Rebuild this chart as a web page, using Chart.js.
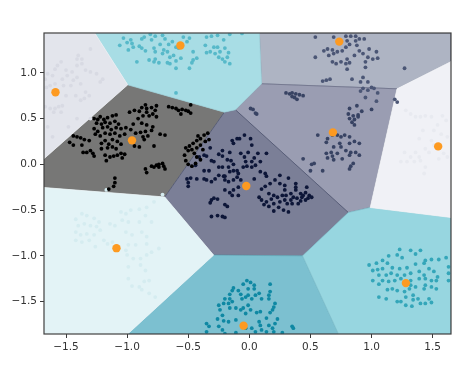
<!DOCTYPE html>
<html>
<head>
<meta charset="utf-8">
<style>
  html, body { margin: 0; padding: 0; background: #fff; }
  canvas { display: block; filter: blur(0.3px); }
</style>
<script src="https://cdn.jsdelivr.net/npm/chart.js@4"></script>
</head>
<body>
<canvas id="chart" width="474" height="366"></canvas>
<script>
// ─── Data ──────────────────────────────────────────────────────────────────

const xTicks = [-1.5, -1, -0.5, 0, 0.5, 1, 1.5];
const yTicks = [-1.5, -1, -0.5, 0, 0.5, 1];

const centers = [[-1.586,.788],[-.96,.262],[-.564,1.298],[.736,1.341],[.684,.349],[1.545,.196],[-.025,-.236],[-1.087,-.916],[-.047,-1.763],[1.281,-1.298]];

// cell outlines
const cellTopLeft = [[-1.68,1.435],[-1.265,1.435],[-.995,.869],[-1.68,.062]];
const cellBlack = [[-.995,.869],[-.204,.57],[-.692,-.357],[-1.68,-.254],[-1.68,.062]];
const cellTopCyan = [[-1.265,1.435],[.082,1.435],[.1,.88],[-.114,.596],[-.204,.57],[-.995,.869]];
const cellTopGray = [[.082,1.435],[1.65,1.435],[1.65,1.123],[1.208,.825],[.1,.88]];
const cellMidGray = [[-.114,.596],[.1,.88],[1.208,.825],[.989,-.472],[.81,-.527]];
const cellRight = [[1.65,1.123],[1.208,.825],[.989,-.472],[1.65,-.581]];
const cellCenter = [[-.204,.57],[-.114,.596],[.81,-.527],[.436,-1],[-.292,-.992],[-.692,-.357]];
const cellLowerLeft = [[-1.68,-.254],[-.692,-.357],[-.292,-.992],[-.995,-1.854],[-1.68,-1.854]];
const cellBottom = [[-.292,-.992],[.436,-1],[.73,-1.854],[-.995,-1.854]];
const cellLowerRight = [[.81,-.527],[.989,-.472],[1.65,-.581],[1.65,-1.854],[.73,-1.854],[.436,-1]];

// points per cluster
const dotsTopLeft = [[-1.30,1.26],[-1.40,1.19],[-1.37,1.15],[-1.41,1.15],[-1.54,1.12],[-1.57,1.08],[-1.59,1.04],[-1.41,1.08],[-1.37,1.10],[-1.34,1.03],[-1.30,1.01],[-1.25,.99],[-1.20,.93],[-1.50,1.03],[-1.45,1.01],[-1.65,.99],[-1.61,.97],[-1.53,.93],[-1.49,.97],[-1.41,.95],[-1.38,.88],[-1.46,.86],[-1.52,.86],[-1.67,.93],[-1.59,.88],[-1.63,.86],[-1.66,.84],[-1.44,.92],[-1.22,.90],[-1.34,.79],[-1.31,.75],[-1.38,.70],[-1.35,.72],[-1.53,.64],[-1.56,.63],[-1.59,.61],[-1.63,.61],[-1.54,.57],[-1.60,.57],[-1.50,.75],[-1.42,.75],[-1.67,.63],[-1.65,.41],[-1.48,.41],[-1.41,.50],[-1.61,.30],[-1.30,.50]];
const dotsBlack = [[-1.27,.50],[-1.24,.49],[-1.22,.52],[-1.19,.49],[-1.16,.51],[-1.12,.53],[-1.09,.54],[-1.25,.45],[-1.21,.44],[-1.18,.46],[-1.14,.45],[-1.10,.47],[-1.07,.44],[-1.27,.39],[-1.24,.36],[-1.20,.40],[-1.16,.41],[-1.13,.38],[-1.09,.40],[-1.05,.39],[-1.01,.40],[-1.26,.33],[-1.22,.31],[-1.18,.34],[-1.14,.33],[-1.10,.34],[-1.06,.31],[-1.02,.33],[-1.18,.26],[-1.21,.23],[-1.15,.22],[-1.12,.27],[-1.08,.25],[-1.05,.22],[-1.16,.18],[-1.12,.19],[-1.09,.17],[-1.21,.17],[-1.18,.10],[-1.14,.08],[-1.11,.09],[-1.17,.04],[-1.08,.10],[-1.05,.12],[-1.02,.11],[-1.04,.07],[-1.44,.31],[-1.41,.30],[-1.38,.29],[-1.35,.27],[-1.47,.24],[-1.44,.21],[-1.31,.26],[-1.37,.21],[-1.30,.15],[-1.33,.13],[-1.28,.12],[-1.27,.09],[-1.36,.13],[-.98,.57],[-.94,.59],[-.90,.58],[-.88,.62],[-.85,.65],[-.84,.61],[-.80,.62],[-.77,.59],[-.76,.64],[-.84,.57],[-.87,.53],[-.82,.53],[-.79,.55],[-.76,.52],[-.91,.50],[-.88,.45],[-.84,.43],[-.79,.41],[-.95,.44],[-.97,.38],[-.93,.34],[-.89,.35],[-.85,.36],[-.80,.37],[-.87,.30],[-.83,.31],[-.86,.27],[-.73,.33],[-.69,.32],[-.78,.20],[-.94,.20],[-.90,.19],[-.66,.63],[-.63,.62],[-.60,.61],[-.58,.59],[-.55,.60],[-.52,.59],[-.50,.58],[-.48,.56],[-.56,.55],[-.48,.65],[-.85,-.05],[-.84,-.09],[-.80,-.02],[-.78,-.03],[-.76,-.01],[-.74,0],[-.74,-.03],[-.70,-.02],[-.71,.01],[-.69,-.05],[-.52,.04],[-.50,0],[-.53,.10],[-.50,.15],[-.52,.18],[-.49,.20],[-.47,.16],[-.46,.23],[-.43,.26],[-.40,.28],[-.37,.32],[-.34,.34],[-.40,.21],[-.43,.18],[-.45,.12],[-.43,.08],[-.40,.05],[-.47,-.02],[-.38,.16],[-.36,.25],[-.33,.27],[-.42,.31],[-.44,.01],[-1.10,-.15],[-1.10,-.20],[-1.11,-.24],[-1.15,-.27]];
const dotsTopCyan = [[-1.06,1.30],[-1.03,1.38],[-1.00,1.33],[-.97,1.36],[-.96,1.32],[-.99,1.25],[-.95,1.28],[-.90,1.29],[-.88,1.37],[-.86,1.39],[-.85,1.24],[-.88,1.27],[-.81,1.42],[-.80,1.36],[-.77,1.40],[-.71,1.41],[-.69,1.37],[-.78,1.27],[-.77,1.23],[-.73,1.31],[-.70,1.25],[-.67,1.23],[-.71,1.21],[-.66,1.31],[-.63,1.34],[-.60,1.28],[-.65,1.17],[-.62,1.19],[-.58,1.27],[-.54,1.39],[-.51,1.34],[-.49,1.38],[-.56,1.16],[-.60,1.13],[-.65,1.10],[-.67,1.11],[-.77,1.15],[-.78,1.12],[-.74,1.11],[-.82,1.14],[-.92,1.12],[-.46,1.23],[-.46,1.14],[-.43,1.16],[-.47,1.11],[-.49,1.05],[-.60,1.05],[-.35,1.39],[-.31,1.40],[-.26,1.41],[-.21,1.36],[-.16,1.42],[-.36,1.30],[-.29,1.28],[-.26,1.28],[-.24,1.23],[-.28,1.21],[-.32,1.23],[-.35,1.22],[-.20,1.27],[-.17,1.22],[-.18,1.17],[-.25,1.17],[-.22,1.15],[-.16,1.10],[-.20,1.12],[-.06,1.43],[-.60,.78]];
const dotsTopGray = [[.54,1.39],[.69,1.39],[.79,1.40],[.83,1.40],[.87,1.40],[.90,1.37],[.94,1.37],[.80,1.35],[.87,1.35],[.82,1.31],[.88,1.30],[.79,1.28],[.76,1.24],[.72,1.23],[.69,1.21],[.65,1.19],[.61,1.24],[.64,1.26],[.68,1.25],[.54,1.17],[.68,1.12],[.71,1.10],[.75,1.12],[.80,1.15],[.79,1.10],[.82,1.11],[.80,1.04],[.90,1.24],[.93,1.21],[.97,1.17],[.98,1.26],[1.04,1.23],[1.01,1.15],[1.05,1.16],[.95,1.12],[.95,1.06],[.86,1.19],[1.27,1.05],[.60,.91],[.63,.92],[.66,.93],[.84,.93],[.93,.95],[.91,.90],[.97,.90],[1.00,.84],[.93,.83],[.91,.80],[.97,.81],[1.02,.83],[1.05,.78],[.95,.73],[1.04,.69],[1.19,.71],[1.21,.68]];
const dotsMidGray = [[.30,.78],[.33,.77],[.35,.78],[.38,.77],[.41,.76],[.44,.75],[.35,.74],[.39,.71],[.37,.73],[.01,.61],[.03,.60],[.06,.55],[.05,.56],[.82,.61],[.88,.64],[.92,.58],[1.00,.60],[.81,.55],[.85,.53],[.89,.54],[.82,.50],[.86,.49],[.84,.46],[.86,.43],[.89,.52],[.56,.32],[.64,.28],[.68,.32],[.75,.30],[.82,.30],[.72,.32],[.78,.32],[.86,.25],[.90,.23],[.82,.23],[.74,.23],[.75,.19],[.79,.15],[.83,.13],[.87,.13],[.90,.10],[.67,.13],[.63,.12],[.64,.07],[.68,.09],[.72,.12],[.69,.05],[.76,.06],[.82,.10],[.85,.01],[.83,-.02],[.82,-.05],[.44,.06],[.53,.01],[.51,0],[.50,-.07],[.60,-.07],[.63,.24],[.69,.19]];
const dotsRight = [[1.28,.59],[1.32,.55],[1.36,.52],[1.40,.52],[1.44,.53],[1.49,.52],[1.58,.53],[1.61,.48],[1.54,.43],[1.51,.37],[1.57,.33],[1.62,.30],[1.42,.37],[1.39,.28],[1.49,.26],[1.51,.21],[1.44,.17],[1.36,.13],[1.32,.08],[1.39,.08],[1.27,.13],[1.24,.03],[1.29,.03],[1.35,.03],[1.40,.04],[1.44,-.03],[1.43,-.10],[1.59,.12],[1.62,.08],[1.55,.06],[1.47,.13]];
const dotsCenter = [[-.51,-.16],[-.48,-.15],[-.50,-.20],[-.50,-.24],[-.43,-.16],[-.37,-.16],[-.35,-.17],[-.31,-.19],[-.28,-.16],[-.25,-.12],[-.21,-.13],[-.20,-.17],[-.17,-.19],[-.13,-.17],[-.10,-.14],[-.07,-.17],[-.44,-.01],[-.41,.08],[-.37,.10],[-.35,.09],[-.32,.18],[-.31,.04],[-.29,.03],[-.25,-.03],[-.22,-.03],[-.17,-.03],[-.13,-.07],[-.10,-.07],[-.09,-.10],[-.16,-.08],[-.20,-.13],[-.37,-.07],[-.33,-.07],[-.22,.15],[-.25,.11],[-.22,.09],[-.18,.05],[-.15,.04],[-.13,0],[-.16,.13],[-.14,.26],[-.13,.23],[-.10,.28],[-.08,.28],[-.04,.32],[.01,.28],[.02,.21],[-.07,.12],[-.04,.08],[-.01,.13],[.07,.12],[.14,.12],[.04,.07],[.02,.03],[-.03,.03],[-.02,-.02],[.02,-.03],[.09,.03],[.05,-.01],[-.05,-.03],[-.20,-.28],[-.16,-.31],[-.13,-.28],[-.09,-.25],[-.09,-.34],[-.14,-.34],[.04,-.16],[-.31,-.39],[-.32,-.42],[-.29,-.37],[-.26,-.38],[-.20,-.44],[-.18,-.46],[-.31,-.57],[-.26,-.56],[-.22,-.57],[-.20,-.58],[.09,-.08],[.13,-.10],[.14,-.13],[.21,-.17],[.25,-.12],[.32,-.15],[.17,-.21],[.13,-.24],[.10,-.27],[.25,-.21],[.29,-.23],[.38,-.21],[.38,-.25],[.08,-.36],[.10,-.39],[.12,-.44],[.16,-.46],[.20,-.43],[.24,-.47],[.20,-.51],[.16,-.32],[.20,-.34],[.23,-.36],[.27,-.34],[.29,-.28],[.34,-.32],[.38,-.28],[.42,-.32],[.47,-.25],[.49,-.34],[.51,-.36],[.46,-.39],[.43,-.36],[.39,-.37],[.34,-.39],[.29,-.39],[.31,-.43],[.35,-.43],[.28,-.50],[.32,-.52],[.40,-.43],[.25,-.41],[.44,-.34],[.46,-.31],[.48,-.37],[.42,-.40],[.36,-.36],[.30,-.34],[.18,-.38],[.14,-.41]];
const dotsLowerLeft = [[-1.37,-.54],[-1.33,-.56],[-1.27,-.59],[-1.23,-.63],[-1.42,-.60],[-1.40,-.67],[-1.35,-.65],[-1.30,-.67],[-1.25,-.68],[-1.42,-.74],[-1.38,-.77],[-1.33,-.76],[-1.27,-.77],[-1.22,-.72],[-1.42,-.83],[-1.37,-.85],[-1.31,-.83],[-1.26,-.90],[-1.19,-.83],[-1.16,-.87],[-1.12,-.85],[-1.14,-.65],[-1.10,-.67],[-1.05,-.52],[-1.01,-.54],[-.97,-.50],[-.90,-.49],[-1.04,-.61],[-.99,-.63],[-.90,-.63],[-.84,-.47],[-.78,-.41],[-.85,-.56],[-.80,-.63],[-1.01,-.74],[-.96,-.77],[-.88,-.74],[-.84,-.79],[-.84,-.87],[-.99,-.88],[-.93,-.88],[-1.01,-.94],[-1.00,-.99],[-.95,-1.03],[-.89,-1.03],[-.84,-.99],[-.80,-.96],[-.74,-.92],[-.89,-1.10],[-.85,-1.16],[-.99,-1.12],[-.99,-1.25],[-.96,-1.33],[-.90,-1.34],[-.86,-1.28],[-.82,-1.27],[-.88,-1.37],[-.82,-1.41],[-.77,-1.45],[-1.17,-.28],[-.71,-.33]];
const dotsBottom = [[-.02,-1.27],[.01,-1.29],[-.05,-1.31],[.04,-1.32],[.04,-1.36],[-.01,-1.36],[-.13,-1.35],[-.14,-1.38],[-.16,-1.42],[-.16,-1.47],[-.09,-1.38],[-.07,-1.42],[-.06,-1.47],[-.03,-1.45],[-.01,-1.43],[.02,-1.47],[.05,-1.43],[.08,-1.41],[.10,-1.47],[.17,-1.31],[.17,-1.39],[.16,-1.43],[.16,-1.47],[-.20,-1.47],[-.21,-1.52],[-.25,-1.54],[-.17,-1.52],[-.14,-1.50],[-.16,-1.57],[-.11,-1.57],[-.07,-1.59],[-.05,-1.57],[-.01,-1.54],[.01,-1.59],[-.03,-1.63],[.06,-1.62],[.09,-1.61],[.21,-1.52],[.20,-1.56],[.19,-1.59],[.17,-1.62],[-.24,-1.59],[-.22,-1.65],[-.26,-1.69],[-.21,-1.71],[-.17,-1.72],[-.11,-1.70],[.08,-1.72],[.09,-1.76],[.14,-1.68],[.16,-1.76],[.23,-1.69],[.21,-1.74],[.19,-1.79],[-.35,-1.74],[-.33,-1.77],[-.35,-1.83],[-.25,-1.77],[-.22,-1.81],[-.20,-1.85],[-.11,-1.84],[.02,-1.79],[.05,-1.83],[.10,-1.81],[.14,-1.83],[.20,-1.83],[.27,-1.84],[.35,-1.77],[.36,-1.79],[-.03,-1.79]];
const dotsLowerRight = [[.98,-1.10],[1.04,-1.08],[1.09,-1.05],[1.14,-1.00],[1.21,-.99],[1.23,-.93],[1.25,-1.02],[1.32,-.94],[1.36,-.98],[1.40,-.94],[1.44,-1.05],[1.49,-1.04],[1.55,-1.04],[1.61,-1.02],[1.63,-1.12],[1.63,-1.19],[1.63,-1.27],[1.01,-1.16],[1.05,-1.15],[1.09,-1.14],[1.13,-1.08],[1.17,-1.13],[1.23,-1.14],[1.29,-1.13],[1.36,-1.09],[1.43,-1.08],[1.47,-1.14],[1.51,-1.17],[1.54,-1.23],[1.06,-1.21],[1.12,-1.21],[1.16,-1.19],[1.21,-1.21],[1.27,-1.21],[1.32,-1.19],[1.39,-1.17],[1.43,-1.21],[1.01,-1.27],[1.06,-1.31],[1.09,-1.27],[1.14,-1.28],[1.19,-1.27],[1.24,-1.25],[1.32,-1.27],[1.39,-1.25],[1.44,-1.25],[1.49,-1.27],[1.53,-1.27],[1.44,-1.32],[1.49,-1.34],[1.53,-1.36],[1.43,-1.36],[1.36,-1.34],[1.32,-1.32],[1.13,-1.37],[1.17,-1.36],[1.21,-1.38],[1.27,-1.39],[1.31,-1.36],[1.06,-1.45],[1.12,-1.47],[1.21,-1.50],[1.24,-1.50],[1.28,-1.45],[1.28,-1.54],[1.34,-1.43],[1.34,-1.48],[1.33,-1.55],[1.38,-1.47],[1.40,-1.52],[1.44,-1.52],[1.47,-1.47],[1.49,-1.51]];

// ─── Dataset helpers ───────────────────────────────────────────────────────

function toXY(list) {
  return list.map(([x, y]) => ({ x, y }));
}

function cellDataset(list, fillColor, edgeColor) {
  return {
    data: toXY([...list, list[0]]),
    showLine: true,
    fill: "shape",
    backgroundColor: fillColor,
    borderColor: edgeColor,
    borderWidth: 0.8,
    pointRadius: 0,
    order: 3,
  };
}

function dotDataset(list, color) {
  return {
    data: toXY(list),
    backgroundColor: color,
    borderWidth: 0,
    pointRadius: 1.9,
    order: 2,
  };
}

// ─── Chart ─────────────────────────────────────────────────────────────────

function minusLabel(v) {
  return String(Number(v).toFixed(1)).replace("-", "\u2212");
}

function axis(min, max, ticks, fit) {
  return {
    type: "linear",
    min,
    max,
    afterBuildTicks: (s) => { s.ticks = ticks.map((value) => ({ value })); },
    afterFit: fit,
    border: { display: false },
    grid: { drawOnChartArea: false, color: "#3a3a3a", tickLength: 4 },
    ticks: {
      callback: minusLabel,
      color: "#333",
      padding: 3,
      maxRotation: 0,
      autoSkip: false,
      font: { family: "'DejaVu Sans'", size: 10.5 },
    },
  };
}

// frame on all four sides, the axes only give two
const frame = {
  id: "frame",
  afterDraw(chart) {
    const { ctx, chartArea: a } = chart;
    ctx.save();
    ctx.strokeStyle = "#404040";
    ctx.lineWidth = 1.2;
    ctx.strokeRect(a.left, a.top, a.right - a.left, a.bottom - a.top);
    ctx.restore();
  },
};

new Chart(document.getElementById("chart"), {
  type: "scatter",
  plugins: [frame],
  data: {
    datasets: [
      cellDataset(cellTopLeft, "#e3e5ec", "#eef0f4"),
      cellDataset(cellTopCyan, "#a8dde5", "#9fd3dc"),
      cellDataset(cellRight, "#f0f1f6", "#f4f5f8"),
      cellDataset(cellLowerLeft, "#e3f3f6", "#eef8fa"),
      cellDataset(cellLowerRight, "#97d6e0", "#84c3cf"),
      cellDataset(cellBottom, "#7cc0d0", "#66a9ba"),
      cellDataset(cellCenter, "#7b7f97", "#4e5470"),
      cellDataset(cellMidGray, "#9a9db2", "#6d7189"),
      cellDataset(cellTopGray, "#aeb4c3", "#7f869c"),
      cellDataset(cellBlack, "#777776", "#777776"),
      dotDataset(dotsTopLeft, "#d8dae3"),
      dotDataset(dotsBlack, "#000000"),
      dotDataset(dotsTopCyan, "#57b9c9"),
      dotDataset(dotsTopGray, "#4b5675"),
      dotDataset(dotsMidGray, "#384363"),
      dotDataset(dotsRight, "#e8eaf0"),
      dotDataset(dotsCenter, "#0d1638"),
      dotDataset(dotsLowerLeft, "#d5ecf0"),
      dotDataset(dotsBottom, "#0f88a3"),
      dotDataset(dotsLowerRight, "#34a6b9"),
      {
        data: toXY(centers),
        backgroundColor: "#fd9a21",
        borderWidth: 0,
        pointRadius: 4.2,
        order: 1,
      },
    ],
  },
  options: {
    responsive: false,
    animation: false,
    events: [],
    layout: { padding: { top: 33, right: 23, left: 0, bottom: 0 } },
    plugins: { legend: { display: false }, tooltip: { enabled: false } },
    scales: {
      x: axis(-1.68, 1.65, xTicks, (s) => { s.height = 32; }),
      y: axis(-1.854, 1.435, yTicks, (s) => { s.width = 44; }),
    },
  },
});
</script>
</body>
</html>
